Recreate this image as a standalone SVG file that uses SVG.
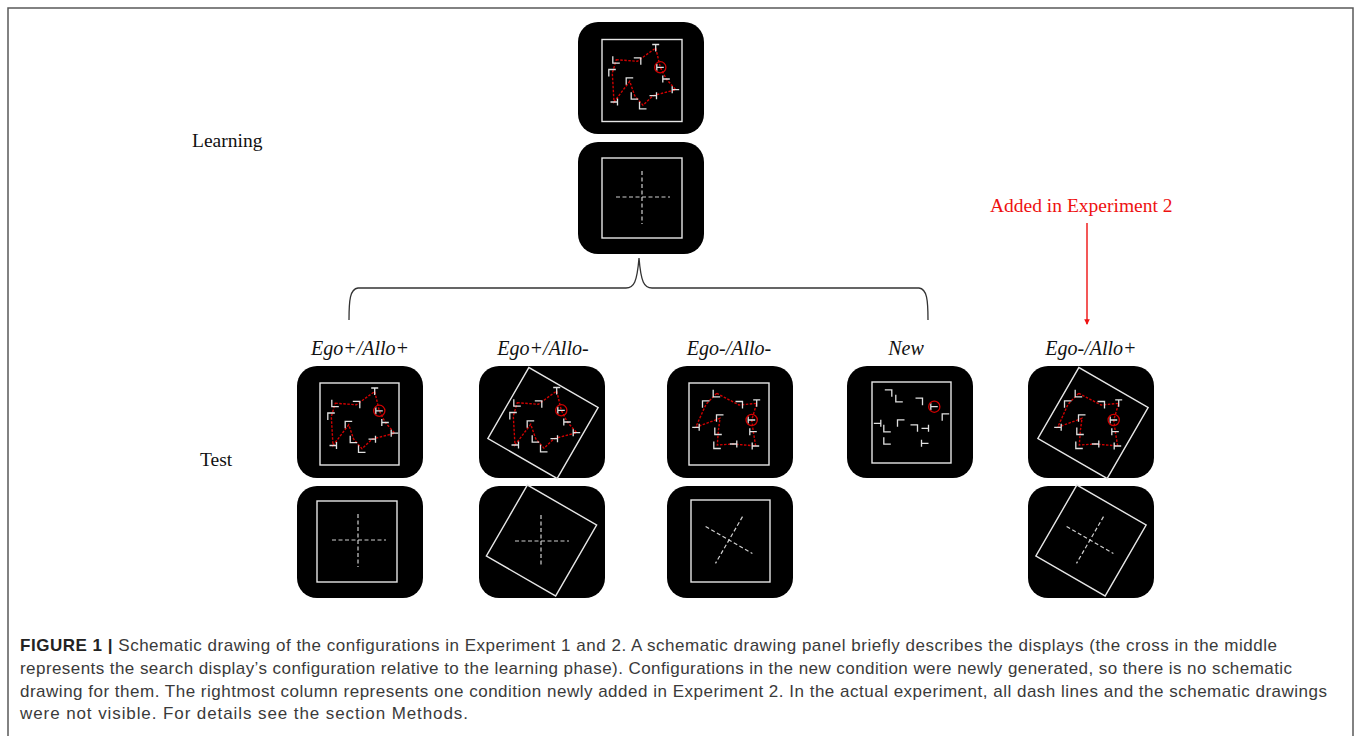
<svg xmlns="http://www.w3.org/2000/svg" xmlns:xlink="http://www.w3.org/1999/xlink" width="1358" height="736" viewBox="0 0 1358 736">
<style>
.frame{fill:none;stroke:#5a5a5a;stroke-width:1.5}
.panel{fill:#000}
.sq{fill:none;stroke:#e6e6e6;stroke-width:1.4}
.cross{fill:none;stroke:#cfcfcf;stroke-width:1.2;stroke-dasharray:4 2.5}
.g{fill:none;stroke:#e0e0e0;stroke-width:1.3}
.path{fill:none;stroke:#d00000;stroke-width:1.4;stroke-dasharray:2.5 1.5}
.tgt{fill:none;stroke:#d00000;stroke-width:1.3}
.lbl{font-family:"Liberation Serif","Times New Roman",serif;font-size:19.5px;fill:#111}
.cond{font-family:"Liberation Serif","Times New Roman",serif;font-style:italic;font-size:20px;fill:#111;text-anchor:middle}
.red{font-family:"Liberation Serif","Times New Roman",serif;font-size:19.5px;fill:#ee1111}
.cap{font-family:"Liberation Sans",Arial,Helvetica,sans-serif;font-size:17px;fill:#3a3a3a}
.brace{fill:none;stroke:#333;stroke-width:1.3}
</style>
<defs>
<path id="gT" class="g" d="M-3.5,-3.5H3.5M0,-3.5V3.5"/>
<path id="gTl" class="g" d="M-3.5,-3.5V3.5M-3.5,0H3.5"/>
<path id="gTr" class="g" d="M3.5,-3.5V3.5M-3.5,0H3.5"/>
<path id="gL" class="g" d="M-3.5,-3.5V3.5H3.5"/>
<path id="gG" class="g" d="M-3.5,3.5V-3.5H3.5"/>
<path id="gGr" class="g" d="M3.5,3.5V-3.5H-3.5"/>
<g id="cfgA">
<path class="path" d="M-25.7,-20.3L-4.7,-18.7L13.7,-32L18.3,-12.7L24.3,-1L33.7,9.7L11,15.7L1,25.3L-7.3,15.7L-12.3,1.3L-28,22L-29.7,-7Z"/>
<use href="#gL" x="-25.7" y="-20.3"/>
<use href="#gGr" x="-4.7" y="-18.7"/>
<use href="#gT" x="13.7" y="-32"/>
<use href="#gTl" x="18.3" y="-12.7"/>
<circle class="tgt" cx="18.3" cy="-12.7" r="5.6"/>
<use href="#gTl" x="24.3" y="-1"/>
<use href="#gTl" x="33.7" y="9.7"/>
<use href="#gTr" x="11" y="15.7"/>
<use href="#gL" x="1" y="25.3"/>
<use href="#gL" x="-7.3" y="15.7"/>
<use href="#gG" x="-12.3" y="1.3"/>
<use href="#gTr" x="-28" y="22"/>
<use href="#gG" x="-29.7" y="-7"/>
</g>
<g id="cfgB">
<path class="path" d="M-12.3,-30.7L10,-19L27.7,-20.7L22.7,-4L24.3,7.7L26.7,22L4.3,20L-11.7,21L-10.7,7L-9,-5.7L-33.3,3.3L-23,-19.7Z"/>
<use href="#gL" x="-12.3" y="-30.7"/>
<use href="#gGr" x="10" y="-19"/>
<use href="#gT" x="27.7" y="-20.7"/>
<use href="#gTl" x="22.7" y="-4"/>
<circle class="tgt" cx="22.7" cy="-4" r="5.6"/>
<use href="#gTl" x="24.3" y="7.7"/>
<use href="#gTl" x="26.7" y="22"/>
<use href="#gTr" x="4.3" y="20"/>
<use href="#gL" x="-11.7" y="21"/>
<use href="#gL" x="-10.7" y="7"/>
<use href="#gG" x="-9" y="-5.7"/>
<use href="#gTr" x="-33.3" y="3.3"/>
<use href="#gG" x="-23" y="-19.7"/>
</g>
<marker id="arr" viewBox="0 0 6 6" refX="5" refY="3" markerWidth="4" markerHeight="4" orient="auto">
<path d="M0,0L6,3L0,6Z" fill="#ee1111"/>
</marker>
</defs>

<path class="frame" d="M8,736V8H1353V736"/>

<text class="lbl" x="192" y="147">Learning</text>
<text class="lbl" x="200" y="466">Test</text>
<text class="red" x="990" y="212">Added in Experiment 2</text>

<g id="connectors">
<path class="brace" d="M349,320C349,300 350,289 358,288L626,288C634,288 637,282 639,258C641,282 644,288 652,288L919,288C927,289 928,300 928,320"/>
<line x1="1087" y1="223" x2="1087" y2="324" stroke="#ee1111" stroke-width="1.4" marker-end="url(#arr)"/>
</g>

<g id="learning-search">
<rect class="panel" x="578" y="22" width="126" height="112" rx="20"/>
<rect class="sq" x="602" y="39.5" width="80" height="82"/>
<use href="#cfgA" transform="translate(642,80)"/>
</g>
<g id="learning-schema">
<rect class="panel" x="578" y="142" width="126" height="112" rx="20"/>
<rect class="sq" x="602" y="158" width="80" height="80"/>
<path class="cross" d="M616,197H670M642,171V224"/>
</g>

<text class="cond" x="360" y="355">Ego+/Allo+</text>
<text class="cond" x="543" y="355">Ego+/Allo-</text>
<text class="cond" x="729" y="355">Ego-/Allo-</text>
<text class="cond" x="906" y="355">New</text>
<text class="cond" x="1091" y="355">Ego-/Allo+</text>

<g id="egoP-alloP-search">
<rect class="panel" x="297" y="366" width="126" height="112" rx="20"/>
<rect class="sq" x="320" y="383" width="79" height="82"/>
<use href="#cfgA" transform="translate(361,423.5)"/>
</g>
<g id="egoP-alloP-schema">
<rect class="panel" x="297" y="486" width="126" height="112" rx="20"/>
<rect class="sq" x="317" y="501" width="80" height="81"/>
<path class="cross" d="M332,540H386M358,514V567"/>
</g>

<g id="egoP-alloM-search">
<rect class="panel" x="479" y="366" width="126" height="112" rx="20"/>
<rect class="sq" x="-40" y="-41" width="80" height="82" transform="translate(543,423) rotate(30)"/>
<use href="#cfgA" transform="translate(543,423)"/>
</g>
<g id="egoP-alloM-schema">
<rect class="panel" x="479" y="486" width="126" height="112" rx="20"/>
<rect class="sq" x="-40" y="-41" width="80" height="82" transform="translate(541.5,540.5) rotate(30)"/>
<path class="cross" d="M515,541H569M541,515V567"/>
</g>

<g id="egoM-alloM-search">
<rect class="panel" x="667" y="366" width="126" height="112" rx="20"/>
<rect class="sq" x="689" y="383" width="80" height="82"/>
<use href="#cfgB" transform="translate(729,424)"/>
</g>
<g id="egoM-alloM-schema">
<rect class="panel" x="667" y="486" width="126" height="112" rx="20"/>
<rect class="sq" x="691" y="500" width="79" height="82"/>
<path class="cross" d="M-27,0H27M0,-27V27" transform="translate(729,540) rotate(30)"/>
</g>

<g id="new-search">
<rect class="panel" x="847" y="366" width="126" height="112" rx="20"/>
<rect class="sq" x="872" y="382" width="79" height="81"/>
<use href="#gGr" x="888.3" y="393.3"/>
<use href="#gL" x="899.3" y="398.3"/>
<use href="#gGr" x="919" y="401.7"/>
<use href="#gTl" x="934.3" y="406.7"/>
<circle class="tgt" cx="934.3" cy="406.7" r="5.6"/>
<use href="#gG" x="945.7" y="417.3"/>
<use href="#gTr" x="877.3" y="423.3"/>
<use href="#gL" x="887.3" y="428.3"/>
<use href="#gG" x="901" y="423.3"/>
<use href="#gGr" x="914" y="428.3"/>
<use href="#gTr" x="925" y="428.3"/>
<use href="#gL" x="887.3" y="440.7"/>
<use href="#gTl" x="925" y="443.3"/>
</g>

<g id="egoM-alloP-search">
<rect class="panel" x="1028" y="366" width="126" height="112" rx="20"/>
<rect class="sq" x="-40" y="-41" width="80" height="82" transform="translate(1093,423) rotate(30)"/>
<use href="#cfgB" transform="translate(1091,424)"/>
</g>
<g id="egoM-alloP-schema">
<rect class="panel" x="1028" y="486" width="126" height="112" rx="20"/>
<rect class="sq" x="-40" y="-41" width="80" height="82" transform="translate(1091,540.5) rotate(30)"/>
<path class="cross" d="M-27,0H27M0,-27V27" transform="translate(1090,540) rotate(30)"/>
</g>

<g id="caption">
<text class="cap" x="20" y="651" textLength="1257"><tspan font-weight="bold" fill="#222">FIGURE 1 |</tspan> Schematic drawing of the configurations in Experiment 1 and 2. A schematic drawing panel briefly describes the displays (the cross in the middle</text>
<text class="cap" x="20" y="674" textLength="1272">represents the search display’s configuration relative to the learning phase). Configurations in the new condition were newly generated, so there is no schematic</text>
<text class="cap" x="20" y="697" textLength="1307">drawing for them. The rightmost column represents one condition newly added in Experiment 2. In the actual experiment, all dash lines and the schematic drawings</text>
<text class="cap" x="20" y="719" textLength="448">were not visible. For details see the section Methods.</text>
</g>
</svg>
